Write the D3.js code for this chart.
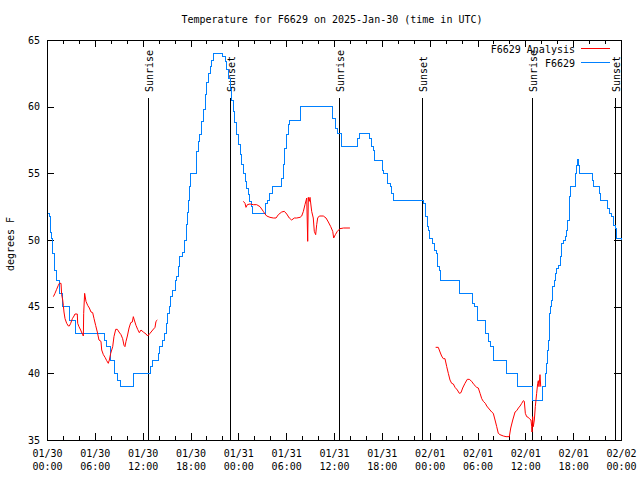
<!DOCTYPE html>
<html><head><meta charset="utf-8">
<script src="https://cdn.jsdelivr.net/npm/d3@7"></script>
<style>
body{margin:0;background:#fff}
text{font-family:"DejaVu Sans Mono",monospace;font-size:10px;fill:#000}
</style>
</head><body>
<svg id="c" width="640" height="480"></svg>
<script>
const chartTitle = "Temperature for F6629 on 2025-Jan-30 (time in UTC)";
const yAxisLabel = "degrees F";
const seriesNames = ["F6629 Analysis", "F6629"];
const seriesColors = ["#ff0000", "#0080ff"];
const startUTC = Date.UTC(2025, 0, 30);
const spanHours = 72;
const yTicks = [35, 40, 45, 50, 55, 60, 65];

// F6629 observed (hours since 01/30 00:00 UTC, degrees F)
const blueHours = [0.1,0.29,0.38,0.5,0.59,0.67,0.71,0.88,1.0,1.13,1.55,1.92,2.8,3.6,7.19,7.48,7.99,8.45,8.86,9.16,10.83,12.92,13.21,13.97,14.17,14.51,14.68,14.93,15.14,15.34,15.55,15.77,16.06,16.27,16.47,16.68,16.97,17.19,17.31,17.45,17.55,17.65,17.75,17.85,17.94,18.7,18.78,18.98,19.19,19.4,19.61,19.82,20.03,20.24,20.45,20.66,20.86,22.05,22.33,22.54,22.74,22.96,23.17,23.37,23.58,23.8,24.0,24.21,24.42,24.63,24.84,25.05,25.25,25.46,25.63,25.8,27.4,27.64,27.97,28.31,29.4,29.64,29.85,30.07,30.23,30.39,31.82,35.85,36.13,36.25,36.5,36.9,39.0,39.17,40.5,40.73,40.93,41.14,42.05,42.27,42.75,43.03,43.24,43.44,47.2,47.42,47.54,47.7,47.88,48.04,48.38,48.58,48.8,48.96,49.21,49.42,51.72,53.35,53.6,53.98,54.95,55.36,55.57,56.05,57.6,58.98,60.88,62.15,62.47,62.68,62.8,62.88,62.97,63.1,63.22,63.39,63.64,63.81,63.94,64.14,64.35,64.56,64.76,64.98,65.19,65.31,65.48,65.6,65.69,66.28,66.44,66.52,66.65,66.77,68.4,68.53,69.3,69.49,70.35,70.62,70.83,71.03,71.25,71.46,72];
const blueTemps = [52,51.75,51.25,50.6,50.1,49.5,49,48.5,47.75,47,46,45,44,43,42.5,42,41,40,39.5,39,40,40.5,41,41.5,42,42.5,43,43.75,44.5,45,45.75,46.25,47,47.25,48,48.75,49.1,49.75,50,50.5,51.2,52.1,53,54,55,56,56.65,57.4,57.9,58.9,59.8,60.9,61.8,62.5,63,63.5,64,63.75,63.4,62.8,62.15,61.3,60.5,59.65,58.8,57.9,57.15,56.4,55.65,55,54.4,53.9,53.4,52.9,52.5,52,52.75,53,53.5,54,54.65,55.65,56.9,57.9,58.65,59,60,59.15,58.8,58.4,58,57,57.6,58,57.6,57,56.75,56,55.25,55,54.25,54,53.5,53,52.75,52.25,51.75,51,50.75,50.1,49.75,49.25,49,48,47.75,47,46,45.25,45,44,43,42.4,42,41,40,39,38,39,40,40.75,41.75,42.5,44.5,45,45.5,46.5,47,47.5,47.9,48.1,48.75,49.75,50,50.25,50.75,51.5,52.5,53.25,54,55,55.6,56.05,55.6,55,54.5,54,53.5,53,52.4,52,51.75,51.1,50.9,50.1,50];

// F6629 Analysis (null = gap between runs)
const redHours = [0.8,1.0,1.21,1.42,1.55,1.76,1.84,1.97,2.05,2.13,2.26,2.47,2.68,2.8,2.97,3.18,3.39,3.51,3.8,3.85,4.01,4.22,4.47,4.56,4.6,4.72,4.89,5.1,5.31,5.52,5.73,5.9,6.1,6.31,6.52,6.77,6.86,7.07,7.28,7.49,7.69,7.82,7.99,8.24,8.4,8.62,8.82,9.03,9.28,9.49,9.66,9.78,9.91,10.08,10.29,10.5,10.7,10.83,10.95,11.16,11.37,11.58,11.79,12.08,12.42,12.63,12.92,13.26,13.55,13.67,13.84,
  null,
  24.63,24.84,24.96,25.13,25.46,25.88,26.3,26.72,27.13,27.35,27.56,27.97,28.39,28.73,29.02,29.44,29.77,30.07,30.39,30.69,31.02,31.32,31.74,31.95,32.16,32.36,32.58,32.7,32.78,32.9,32.99,33.2,33.4,33.53,33.7,33.83,33.95,34.16,34.66,35.0,35.29,35.59,35.84,35.96,36.17,36.42,36.75,37.2,38.0,
  null,
  48.75,49.08,49.3,49.5,49.71,49.92,50.14,50.34,50.55,50.76,50.97,51.18,51.47,51.72,51.93,52.14,52.43,52.72,52.97,53.27,53.56,53.9,54.1,54.32,54.53,54.73,54.98,55.16,55.36,55.57,55.78,55.98,56.2,56.41,56.61,56.82,57.24,57.58,57.99,58.17,58.42,58.71,58.92,59.13,59.34,59.55,59.75,59.87,60.0,60.17,60.37,60.58,60.71,60.8,60.84,60.92,61.0,61.13,61.25,61.42,61.55,61.63,61.71,61.84,61.93];
const redTemps = [45.75,46,46.3,46.6,46.75,46.75,45.9,45.5,45.1,44.6,44.1,43.75,43.55,43.55,43.75,44.1,44.3,44.45,44.45,43.75,43.5,43.25,42.9,42.8,44.5,46.0,45.4,45.1,44.9,44.6,44.55,44.1,43.6,43.1,42.5,42.4,41.75,41.4,41.2,40.95,40.75,41,41.5,42,42.75,43.3,43.3,43.1,42.9,42.6,42.1,42.0,42.4,42.8,43.4,43.8,43.85,44.25,44,43.6,43.3,43.05,43.25,43.1,42.95,42.8,43,43.25,43.45,43.9,44,
  null,
  52.9,52.75,52.45,52.65,52.7,52.65,52.65,52.5,52.15,51.95,51.8,51.7,51.65,51.65,51.9,52.1,52.15,51.95,51.65,51.5,51.65,51.65,51.7,51.8,52.15,52.65,53.15,49.9,53.2,52.9,53.2,52.15,51.65,50.65,50.4,51.15,51.65,51.8,51.8,51.65,51.35,51.0,50.65,50.15,50.4,50.65,50.85,50.9,50.9,
  null,
  41.95,41.95,41.6,41.3,41.1,41.1,40.5,40,39.5,39.25,39.2,38.95,38.75,38.5,38.55,38.9,39.25,39.55,39.55,39.4,39.15,38.95,38.9,38.5,38.1,37.9,37.75,37.55,37.4,37.25,37.1,37.0,36.5,36.0,35.5,35.4,35.3,35.25,35.25,35.9,36.5,37.1,37.2,37.4,37.55,37.75,37.95,37.9,37.0,36.75,36.7,36.55,36.5,36.0,35.6,36.75,36.0,36.5,37.5,38.5,39.25,39.45,39.0,39.9,39.0];

const sunriseHours = [12.71, 36.67, 60.8];
const sunsetHours = [22.98, 47.08, 71.21];

const toDate = h => new Date(startUTC + h * 3600e3);
const M = {left: 47, right: 621, top: 40, bottom: 440};

const svg = d3.select("#c");
const x = d3.scaleUtc().domain([toDate(0), toDate(spanHours)]).range([M.left, M.right]);
const y = d3.scaleLinear().domain([35, 65]).range([M.bottom, M.top]);

svg.append("text").attr("x", 332).attr("y", 23).attr("text-anchor", "middle").text(chartTitle);
svg.append("text").attr("transform", "translate(14,244) rotate(-90)")
  .attr("text-anchor", "middle").text(yAxisLabel);

const g = svg.append("g");
function styleAxis(sel){
  sel.select(".domain").remove();
  sel.selectAll("line").attr("stroke", "#000").attr("shape-rendering", "crispEdges");
}
const fmtDay = d3.utcFormat("%m/%d"), fmtHour = d3.utcFormat("%H:%M");
const majorX = d3.utcHour.every(6), minorX = d3.utcHour.every(2);

const bx = g.append("g").attr("transform", `translate(0,${M.bottom})`)
  .call(d3.axisBottom(x).ticks(majorX).tickSize(-7).tickSizeOuter(0).tickFormat(d => d));
styleAxis(bx);
bx.selectAll("text").each(function(d){
  const t = d3.select(this).text(null).attr("dy", null).attr("y", null);
  t.append("tspan").attr("x", 0).attr("y", 17).text(fmtDay(d));
  t.append("tspan").attr("x", 0).attr("y", 30).text(fmtHour(d));
});
bx.attr("font-family", null).attr("font-size", null);
styleAxis(g.append("g").attr("transform", `translate(0,${M.bottom})`)
  .call(d3.axisBottom(x).ticks(minorX).tickSize(-4).tickSizeOuter(0).tickFormat("")));
styleAxis(g.append("g").attr("transform", `translate(0,${M.top})`)
  .call(d3.axisTop(x).ticks(majorX).tickSize(-7).tickSizeOuter(0).tickFormat("")));
styleAxis(g.append("g").attr("transform", `translate(0,${M.top})`)
  .call(d3.axisTop(x).ticks(minorX).tickSize(-4).tickSizeOuter(0).tickFormat("")));
const ly = g.append("g").attr("transform", `translate(${M.left},0)`)
  .call(d3.axisLeft(y).tickValues(yTicks).tickSize(-7).tickSizeOuter(0).tickPadding(7).tickFormat(d3.format("d")));
styleAxis(ly);
ly.attr("font-family", null).attr("font-size", null);
styleAxis(g.append("g").attr("transform", `translate(${M.right},0)`)
  .call(d3.axisRight(y).tickValues(yTicks).tickSize(-7).tickSizeOuter(0).tickFormat("")));

svg.append("rect").attr("x", M.left + 0.5).attr("y", M.top + 0.5)
  .attr("width", M.right - M.left).attr("height", M.bottom - M.top)
  .attr("fill", "none").attr("stroke", "#000");

const sunEvents = sunriseHours.map(h => ({h, label: "Sunrise"}))
  .concat(sunsetHours.map(h => ({h, label: "Sunset"})));
const sg = svg.append("g");
sunEvents.forEach(e => {
  const px = Math.round(x(toDate(e.h))) + 0.5;
  sg.append("line").attr("x1", px).attr("x2", px)
    .attr("y1", y(65) + 58).attr("y2", y(35))
    .attr("stroke", "#000").attr("shape-rendering", "crispEdges");
  sg.append("text").attr("transform", `translate(${px + 1},${y(65) + 52}) rotate(-90)`)
    .attr("dominant-baseline", "central").attr("text-anchor", "start").text(e.label);
});

const blue = blueHours.map((h, i) => ({t: toDate(h), v: blueTemps[i]}));
const red = redHours.map((h, i) => ({t: h == null ? null : toDate(h), v: redTemps[i]}));

svg.append("path").datum(blue)
  .attr("d", d3.line().x(d => x(d.t)).y(d => y(d.v)).curve(d3.curveStepAfter))
  .attr("fill", "none").attr("stroke", seriesColors[1]).attr("stroke-width", 1)
  .attr("shape-rendering", "crispEdges");
svg.append("path").datum(red)
  .attr("d", d3.line().defined(d => d.t != null).x(d => x(d.t)).y(d => y(d.v)))
  .attr("fill", "none").attr("stroke", seriesColors[0]).attr("stroke-width", 1);

const legY = [49, 63];
seriesNames.forEach((n, i) => {
  svg.append("text").attr("x", 575).attr("y", legY[i]).attr("dominant-baseline", "central")
    .attr("text-anchor", "end").text(n);
  svg.append("line").attr("x1", 581).attr("x2", 610)
    .attr("y1", legY[i] - 0.5).attr("y2", legY[i] - 0.5)
    .attr("stroke", seriesColors[i]).attr("stroke-width", 1)
    .attr("shape-rendering", "crispEdges");
});
</script>
</body></html>
